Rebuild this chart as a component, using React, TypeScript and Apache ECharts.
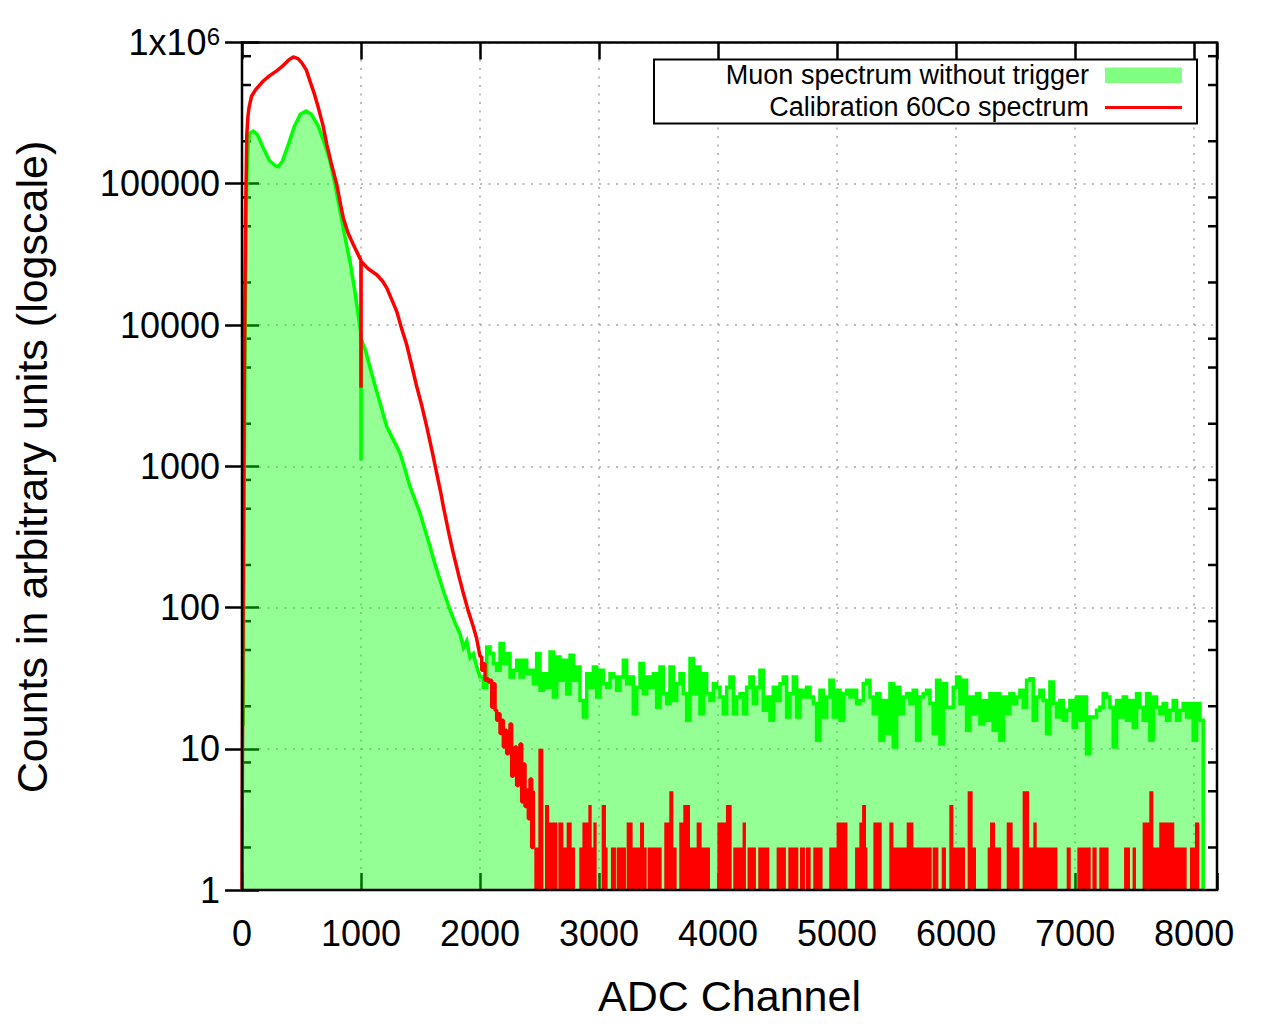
import React, { useEffect, useRef } from "react";
import * as echarts from "echarts";

// ---------- axes ----------
const X_MIN = 0;
const X_MAX = 8192;
const X_INTERVAL = 1000;
const Y_MIN = 1;
const Y_MAX = 1000000;
const minorMantissas = [2, 5, 8];
const minorExponents = [0, 1, 2, 3, 4, 5];

// ---------- Muon spectrum (green) ----------
const greenSmoothCh = [0, 10, 18, 26, 34, 42, 52, 65, 95, 130, 180, 230, 280, 305, 340, 390, 440, 490, 538, 580, 641, 700, 739, 780, 824, 870, 908, 950, 992, 999, 1000, 1001, 1040, 1104, 1160, 1216, 1270, 1328, 1370, 1412, 1450, 1496, 1540, 1580, 1620, 1664, 1700, 1748, 1790, 1832, 1860, 1888, 1916, 1944, 1972];
const greenSmoothVal = [15, 15, 600, 8000, 50000, 120000, 190000, 228000, 236000, 222000, 178000, 146000, 134000, 132000, 145000, 190000, 255000, 310000, 327000, 312000, 256000, 185000, 145000, 100000, 64000, 40000, 28000, 17000, 9500, 8800, 1100, 8000, 6500, 4100, 2800, 1910, 1550, 1237, 950, 717, 590, 464, 350, 269, 205, 156, 125, 96, 78, 65, 52, 58, 44, 47, 38];
const greenNoiseStart = 2000;
const greenNoiseBin = 28;
const greenNoiseVal = [
  32.2, 27.3, 52.6, 47.2, 40.1, 35.9, 55.6, 40.1, 47.2, 32.2,
  35.9, 42.3, 32.2, 42.3, 34.0, 35.9, 28.9, 47.2, 25.9, 34.0,
  27.3, 48.4, 23.2, 44.7, 30.5, 42.3, 24.5, 45.9, 30.5, 37.9,
  22.0, 16.8, 34.0, 27.3, 37.9, 23.2, 35.9, 28.9, 27.3, 34.0,
  32.2, 25.9, 32.2, 42.3, 28.9, 32.2, 17.7, 27.3, 40.1, 24.5,
  32.2, 27.3, 34.0, 19.7, 37.9, 24.5, 20.9, 37.9, 22.0, 28.9,
  34.0, 24.5, 15.9, 43.5, 24.5, 37.9, 17.7, 34.0, 24.5, 22.0,
  28.9, 27.3, 23.2, 17.7, 27.3, 32.2, 17.7, 23.2, 24.5, 17.7,
  27.3, 32.2, 20.9, 27.3, 35.9, 18.7, 23.2, 15.9, 27.3, 22.0,
  28.9, 32.2, 16.8, 24.5, 32.2, 16.8, 25.9, 23.2, 27.3, 23.2,
  20.9, 11.5, 25.9, 16.8, 23.2, 30.5, 16.8, 25.9, 15.9, 24.5,
  25.9,
  23.2, 25.9, 20.9, 22.0, 28.9, 30.5, 23.2, 17.7, 24.5, 11.5,
  22.0, 12.8, 28.9, 10.3, 27.3, 17.7, 23.2, 24.5, 20.9, 25.9,
  11.5, 23.2, 24.5, 25.9, 20.9, 12.8, 30.5, 10.8, 28.9, 19.7,
  19.7, 27.3, 32.2, 20.9, 30.5, 13.5, 23.2, 17.7, 24.5, 15.0,
  22.0, 15.9, 24.5, 13.5, 24.5, 11.5, 23.2, 17.7, 24.5, 20.9,
  23.2, 25.9, 19.7, 30.5, 31.3, 15.9, 23.2, 25.9, 22.0, 12.8,
  29.7, 20.9, 16.8, 22.0, 15.9, 18.7, 22.0, 14.2, 23.2, 15.9,
  23.2, 9.2, 16.8, 16.8, 18.7, 19.7, 24.5, 23.2, 19.7, 10.3,
  22.0, 16.8, 23.2, 15.9, 22.0, 14.2, 24.5, 19.7, 15.9, 24.5,
  11.5, 23.2, 19.7, 17.7, 20.9, 15.9, 18.7, 22.0, 15.9, 18.7,
  20.9, 16.8, 20.9, 11.5, 20.9, 15.9,
];
const greenEndVal = 1;

// ---------- Calibration 60Co spectrum (red) ----------
const redSmoothCh = [0, 4, 12, 20, 30, 40, 50, 60, 81, 120, 179, 230, 291, 340, 390, 431, 470, 501, 540, 571, 605, 641, 680, 712, 750, 796, 830, 851, 890, 935, 980, 999, 1000, 1001, 1060, 1132, 1180, 1216, 1260, 1300, 1340, 1384, 1430, 1468, 1510, 1552, 1600, 1636, 1670, 1692, 1740, 1776, 1820, 1860, 1900, 1944, 1972];
const redSmoothVal = [1, 12, 300, 5000, 60000, 220000, 300000, 350000, 418000, 470000, 534000, 580000, 630000, 680000, 750000, 790000, 770000, 721000, 640000, 534000, 440000, 346000, 260000, 190000, 140000, 98900, 70000, 57400, 45000, 37100, 31000, 28800, 3600, 28200, 25000, 22700, 20500, 18300, 15000, 12500, 9500, 7250, 5000, 3670, 2700, 1910, 1250, 891, 650, 517, 330, 241, 170, 126, 95, 72.8, 60];
const redNoiseStart = 2000;
const redNoiseBin = 14;
const redNoiseVal = [45, 36, 40, 30.5, 31.3, 29.7, 30.5, 19.7, 28.9, 18.7, 15.9, 17.7, 12.8, 15.9, 10.3, 13.5, 9.2, 12.1, 15.0, 6.4, 8.2, 10.3, 5.5, 7.4, 10.8, 4.2, 7.8, 3.9, 5.1, 3.2, 6.1, 2, 4.9];
// [start channel, end channel, counts] of the low-count red runs
const redBlocks = [
  [2456, 2490, 2], [2490, 2532, 10], [2546, 2580, 4], [2580, 2650, 3], [2658, 2700, 3],
  [2700, 2728, 2], [2728, 2770, 3], [2770, 2798, 2], [2834, 2860, 2], [2860, 2910, 3],
  [2910, 2938, 4], [2938, 2952, 2], [2952, 2980, 3], [3022, 3058, 4], [3058, 3072, 2],
  [3100, 3142, 2], [3148, 3226, 2], [3232, 3282, 3], [3282, 3344, 2], [3344, 3378, 3],
  [3378, 3400, 2], [3408, 3526, 2], [3548, 3590, 3], [3590, 3624, 5], [3624, 3652, 2],
  [3674, 3708, 3], [3708, 3764, 4], [3764, 3820, 2], [3820, 3862, 3], [3862, 3932, 2],
  [3994, 4066, 3], [4066, 4114, 4], [4128, 4206, 2], [4206, 4234, 3], [4248, 4318, 2],
  [4338, 4430, 2], [4492, 4570, 2], [4590, 4674, 2], [4688, 4730, 2], [4738, 4778, 2],
  [4800, 4878, 2], [4934, 4996, 2], [4996, 5087, 3],
  [5151, 5187, 2], [5187, 5210, 3], [5210, 5243, 4], [5243, 5255, 2], [5305, 5375, 3],
  [5439, 5473, 3], [5473, 5585, 2], [5585, 5641, 3], [5641, 5795, 2], [5803, 5851, 2],
  [5879, 5915, 2], [5943, 5977, 4], [5977, 6075, 2], [6097, 6139, 5], [6139, 6167, 2],
  [6265, 6285, 2], [6285, 6327, 3], [6327, 6377, 2], [6425, 6475, 3], [6475, 6531, 2],
  [6559, 6613, 5], [6613, 6649, 2], [6649, 6677, 3], [6677, 6851, 2], [6929, 6963, 2],
  [7019, 7131, 2], [7145, 7181, 2], [7203, 7281, 2], [7411, 7461, 2], [7483, 7511, 2],
  [7567, 7623, 3], [7623, 7657, 5], [7657, 7707, 2], [7707, 7833, 3], [7833, 7937, 2],
  [7965, 8007, 2], [8007, 8043, 3],
];

const legendNames = ["Muon spectrum without trigger", "Calibration 60Co spectrum"];
const xTitle = "ADC Channel";
const yTitle = "Counts in arbitrary units (logscale)";

const FONT = "'Liberation Sans', Arial, Helvetica, sans-serif";

// ---------- build series data ----------
function buildGreen(): number[][] {
  const d: number[][] = greenSmoothCh.map((c, i) => [c, greenSmoothVal[i]]);
  greenNoiseVal.forEach((v, i) => {
    const a = greenNoiseStart + i * greenNoiseBin;
    d.push([a, v], [a + greenNoiseBin, v]);
  });
  const end = greenNoiseStart + greenNoiseVal.length * greenNoiseBin;
  d.push([end, greenEndVal]);
  return d;
}
function buildRedLine(): number[][] {
  const d: number[][] = redSmoothCh.map((c, i) => [c, redSmoothVal[i]]);
  redNoiseVal.forEach((v, i) => {
    const a = redNoiseStart + i * redNoiseBin;
    d.push([a, v], [a + redNoiseBin, v]);
  });
  return d;
}
function buildRedBlocks(): number[][] {
  const d: number[][] = [];
  redBlocks.forEach(([s, e, l]) => {
    d.push([s, Y_MIN], [s, l], [e, l], [e, Y_MIN]);
  });
  return d;
}
function buildMinorTicks(): number[][] {
  const d: number[][] = [];
  minorExponents.forEach((e) => minorMantissas.forEach((m) => d.push([X_MIN, m * Math.pow(10, e)])));
  return d;
}

// layout (pixels)
const G_LEFT = 242;
const G_RIGHT = 63;
const G_TOP = 42.5;
const G_BOTTOM = 134;
const W = 1280;
const H = 1024;

export default function App() {
  const ref = useRef<HTMLDivElement>(null);
  useEffect(() => {
    if (!ref.current) return;
    const chart = echarts.init(ref.current, undefined, { renderer: "svg" });
    const gridLine = { show: true, lineStyle: { color: "#a8a8a8", width: 1.5, type: [2, 6.5] as any } };
    const tickStyle = { color: "#000", width: 2.5 };
    const option: any = {
      animation: false,
      backgroundColor: "#ffffff",
      grid: { left: G_LEFT, right: G_RIGHT, top: G_TOP, bottom: G_BOTTOM, outerBoundsMode: "none", containLabel: false },
      xAxis: [
        {
          type: "value", position: "bottom", min: X_MIN, max: X_MAX, interval: X_INTERVAL,
          axisLine: { show: false },
          axisTick: { show: true, inside: true, length: 17, lineStyle: tickStyle },
          axisLabel: {
            show: true, margin: 25, fontSize: 36, color: "#000", fontFamily: FONT,
            formatter: (v: number) => (v % X_INTERVAL === 0 ? String(v) : ""),
          },
          splitLine: gridLine,
        },
        {
          type: "value", position: "top", min: X_MIN, max: X_MAX, interval: X_INTERVAL,
          axisLine: { show: false },
          axisTick: { show: true, inside: true, length: 17, lineStyle: tickStyle },
          axisLabel: { show: false },
          splitLine: { show: false },
        },
      ],
      yAxis: [
        {
          type: "log", logBase: 10, position: "left", min: Y_MIN, max: Y_MAX,
          axisLine: { show: false },
          axisTick: { show: true, inside: true, length: 17, lineStyle: tickStyle },
          axisLabel: {
            show: true, margin: 22, fontSize: 36, color: "#000", fontFamily: FONT,
            formatter: (v: number) => (v >= Y_MAX * 0.999 ? "{b|1x10}{s|6}" : String(Math.round(v))),
            rich: {
              b: { fontSize: 36, fontFamily: FONT, color: "#000", lineHeight: 36 },
              s: { fontSize: 24, fontFamily: FONT, color: "#000", lineHeight: 24, verticalAlign: "top", padding: [0, 0, 12, 0] },
            },
          },
          splitLine: gridLine,
        },
        {
          type: "log", logBase: 10, position: "right", min: Y_MIN, max: Y_MAX,
          axisLine: { show: false },
          axisTick: { show: true, inside: true, length: 17, lineStyle: tickStyle },
          axisLabel: { show: false },
          splitLine: { show: false },
        },
      ],
      series: [
        {
          type: "custom", name: "minorTicks", coordinateSystem: "cartesian2d", xAxisIndex: 0, yAxisIndex: 0,
          silent: true, clip: false, z: 1,
          data: buildMinorTicks(),
          encode: { x: 0, y: 1 },
          renderItem: (_p: any, api: any) => {
            const v = api.value(1);
            const pl = api.coord([X_MIN, v]);
            const pr = api.coord([X_MAX, v]);
            return {
              type: "group",
              children: [
                { type: "line", shape: { x1: pl[0], y1: pl[1], x2: pl[0] + 9, y2: pl[1] }, style: { stroke: "#000", lineWidth: 2.5 } },
                { type: "line", shape: { x1: pr[0] - 9, y1: pr[1], x2: pr[0], y2: pr[1] }, style: { stroke: "#000", lineWidth: 2.5 } },
              ],
            };
          },
        },
        {
          type: "line", name: legendNames[0], xAxisIndex: 0, yAxisIndex: 0,
          data: buildGreen(), showSymbol: false, symbol: "none", silent: true, z: 2,
          lineStyle: { color: "#00ff00", width: 3.5, join: "miter" },
          areaStyle: { color: "rgba(0,255,0,0.42)", opacity: 1, origin: "start" },
        },
        {
          type: "line", name: legendNames[1], xAxisIndex: 0, yAxisIndex: 0,
          data: buildRedLine(), showSymbol: false, symbol: "none", silent: true, z: 3,
          lineStyle: { color: "#ff0000", width: 3.5 },
        },
        {
          type: "line", name: "redLow", xAxisIndex: 0, yAxisIndex: 0,
          data: buildRedBlocks(), showSymbol: false, symbol: "none", silent: true, z: 3,
          lineStyle: { width: 0, color: "#ff0000" },
          areaStyle: { color: "#ff0000", opacity: 1, origin: "start" },
        },
      ],
      graphic: [
        {
          type: "rect", z: 100, silent: true,
          shape: { x: G_LEFT, y: G_TOP, width: W - G_LEFT - G_RIGHT, height: H - G_TOP - G_BOTTOM },
          style: { fill: "none", stroke: "#000", lineWidth: 2.5 },
        },
        {
          type: "rect", z: 101, silent: true,
          shape: { x: 654, y: 59.5, width: 543, height: 64 },
          style: { fill: "#ffffff", stroke: "#000", lineWidth: 2 },
        },
        {
          type: "text", z: 102, silent: true, x: 1089, y: 75,
          style: { text: legendNames[0], fontSize: 27, fontFamily: FONT, fill: "#000", align: "right", verticalAlign: "middle", textAlign: "right", textVerticalAlign: "middle" },
        },
        {
          type: "rect", z: 102, silent: true,
          shape: { x: 1105, y: 67.5, width: 77, height: 15.5 },
          style: { fill: "#80ff80" },
        },
        {
          type: "text", z: 102, silent: true, x: 1089, y: 107,
          style: { text: legendNames[1], fontSize: 27, fontFamily: FONT, fill: "#000", align: "right", verticalAlign: "middle", textAlign: "right", textVerticalAlign: "middle" },
        },
        {
          type: "line", z: 102, silent: true,
          shape: { x1: 1105, y1: 107.5, x2: 1182, y2: 107.5 },
          style: { stroke: "#ff0000", lineWidth: 3 },
        },
        {
          type: "text", z: 102, silent: true, x: 729.5, y: 996,
          style: { text: xTitle, fontSize: 43, fontFamily: FONT, fill: "#000", align: "center", verticalAlign: "middle", textAlign: "center", textVerticalAlign: "middle" },
        },
        {
          type: "text", z: 102, silent: true, x: 32, y: 467, rotation: Math.PI / 2,
          style: { text: yTitle, fontSize: 43, fontFamily: FONT, fill: "#000", align: "center", verticalAlign: "middle", textAlign: "center", textVerticalAlign: "middle" },
        },
      ],
    };
    chart.setOption(option);
    return () => chart.dispose();
  }, []);
  return <div ref={ref} style={{ position: "fixed", left: 0, top: 0, width: W, height: H }} />;
}
